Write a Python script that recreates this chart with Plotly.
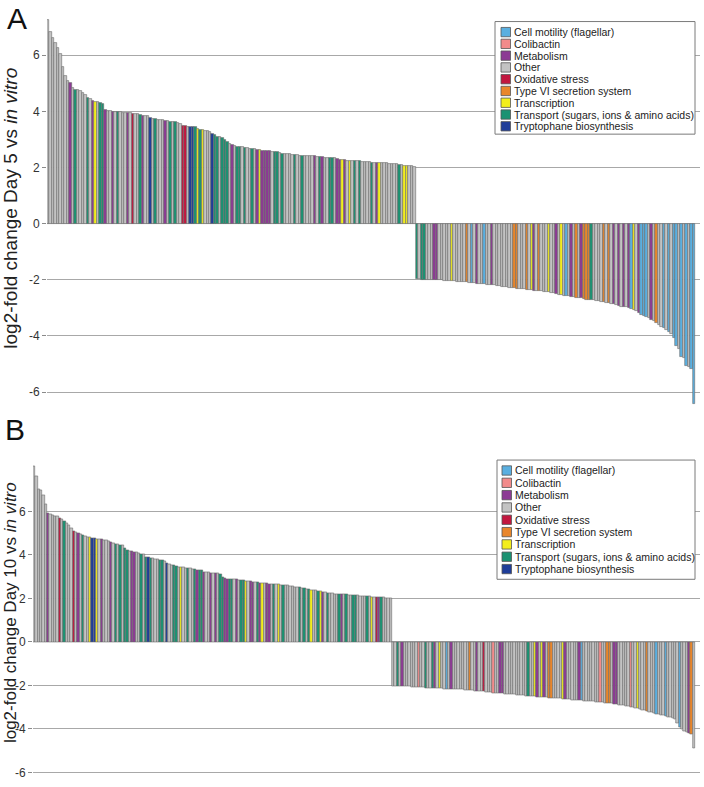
import plotly.graph_objects as go

# ---------------- DATA ----------------
legend_codes = ["C", "P", "M", "O", "R", "X", "Y", "T", "B"]
legend_labels = ["Cell motility (flagellar)", "Colibactin", "Metabolism", "Other",
                 "Oxidative stress", "Type VI secretion system", "Transcription",
                 "Transport (sugars, ions & amino acids)", "Tryptophane biosynthesis"]
cat_colors = {"C": "#5aafe0", "P": "#f28b8b", "M": "#8c3a94", "O": "#c3c3c3", "R": "#c2173f",
              "X": "#e8862b", "Y": "#f3ee1c", "T": "#1b9272", "B": "#1f3d99"}

# Panel A: Day 5 vs in vitro (up-regulated then down-regulated)
a_up = [7.26, 6.82, 6.63, 6.43, 6.25, 6.04, 5.57, 5.25, 5.10, 5.02,
        4.85, 4.76, 4.76, 4.72, 4.65, 4.60, 4.49, 4.45, 4.38, 4.34,
        4.32, 4.30, 4.27, 4.06, 4.00, 4.00, 3.98, 3.98, 3.98, 3.97,
        3.96, 3.95, 3.94, 3.93, 3.92, 3.92, 3.91, 3.86, 3.83, 3.82,
        3.82, 3.76, 3.74, 3.72, 3.71, 3.69, 3.68, 3.67, 3.65, 3.63,
        3.63, 3.62, 3.58, 3.56, 3.49, 3.48, 3.45, 3.44, 3.44, 3.43,
        3.38, 3.34, 3.33, 3.31, 3.29, 3.27, 3.20, 3.15, 3.10, 3.08,
        3.04, 2.99, 2.91, 2.84, 2.80, 2.78, 2.74, 2.73, 2.72, 2.69,
        2.68, 2.67, 2.66, 2.65, 2.64, 2.62, 2.60, 2.59, 2.59, 2.58,
        2.56, 2.56, 2.54, 2.51, 2.50, 2.49, 2.48, 2.47, 2.46, 2.44,
        2.44, 2.43, 2.43, 2.42, 2.42, 2.41, 2.41, 2.40, 2.39, 2.38,
        2.36, 2.35, 2.35, 2.34, 2.33, 2.33, 2.30, 2.28, 2.26, 2.26,
        2.25, 2.24, 2.23, 2.23, 2.22, 2.22, 2.21, 2.21, 2.20, 2.19,
        2.18, 2.18, 2.17, 2.17, 2.16, 2.15, 2.15, 2.14, 2.13, 2.12,
        2.12, 2.09, 2.08, 2.07, 2.07, 2.05, 2.04, 2.02]
a_up_cats = ("OOOOOOOOOM" "OTOOOOTOMY" "OTTMOOMOTO" "OOMOROOTMO" "OBOTOOOMOT"
             "OTOORROBBT" "YTYOOOBTTO" "TTTOMOTTOT" "OOTOMYMMMM" "OTTOTOOOOT"
             "OOTOOOOMOT" "MOOTTOMMYM" "OYOTOTOOOO" "TOMYOOOOOO" "OTOYYOOO")
a_down = [-1.98, -1.98, -1.99, -1.99, -2.00, -2.00, -2.00, -2.01, -2.01, -2.02,
          -2.02, -2.03, -2.03, -2.04, -2.04, -2.05, -2.06, -2.07, -2.08, -2.08,
          -2.09, -2.10, -2.11, -2.12, -2.13, -2.14, -2.15, -2.16, -2.17, -2.18,
          -2.19, -2.20, -2.22, -2.23, -2.24, -2.26, -2.27, -2.28, -2.29, -2.30,
          -2.31, -2.32, -2.33, -2.34, -2.35, -2.36, -2.37, -2.38, -2.39, -2.40,
          -2.41, -2.42, -2.44, -2.45, -2.47, -2.48, -2.50, -2.53, -2.55, -2.56,
          -2.57, -2.59, -2.60, -2.62, -2.63, -2.65, -2.66, -2.69, -2.70, -2.71,
          -2.71, -2.73, -2.75, -2.77, -2.79, -2.80, -2.82, -2.84, -2.86, -2.87,
          -2.90, -2.93, -2.95, -2.96, -2.98, -3.01, -3.04, -3.07, -3.10, -3.19,
          -3.24, -3.28, -3.31, -3.36, -3.42, -3.48, -3.54, -3.62, -3.68, -3.72,
          -3.80, -3.86, -3.93, -4.07, -4.36, -4.45, -4.76, -4.80, -5.07, -5.12,
          -5.19, -6.43]
a_down_cats = ("TOTTOOOMMO" "OOOOYOOOOO" "XOCOMOOCOO" "MOOOOOOOOX" "XOOOXOYMOX"
               "OOOYOOMOYO" "COMOXOMXXX" "TOOOOXOXOM" "OMOMOMCYOM" "CCCOMOXOOC"
               "OCOCCOCOCO" "CC")

# Panel B: Day 10 vs in vitro
b_up = [8.09, 7.60, 7.02, 6.98, 6.76, 6.31, 5.90, 5.87, 5.84, 5.79,
        5.75, 5.69, 5.64, 5.53, 5.46, 5.35, 5.20, 5.08, 5.02, 4.98,
        4.94, 4.90, 4.86, 4.83, 4.80, 4.77, 4.76, 4.73, 4.72, 4.70,
        4.69, 4.66, 4.64, 4.56, 4.54, 4.50, 4.48, 4.45, 4.42, 4.31,
        4.20, 4.16, 4.16, 4.13, 4.10, 4.09, 4.04, 4.01, 3.91, 3.87,
        3.84, 3.82, 3.81, 3.79, 3.76, 3.74, 3.69, 3.62, 3.58, 3.54,
        3.52, 3.47, 3.45, 3.42, 3.41, 3.40, 3.40, 3.38, 3.35, 3.32,
        3.29, 3.27, 3.27, 3.21, 3.20, 3.18, 3.17, 3.17, 3.15, 3.14,
        3.10, 2.98, 2.92, 2.90, 2.89, 2.87, 2.86, 2.86, 2.84, 2.84,
        2.82, 2.79, 2.78, 2.77, 2.76, 2.74, 2.73, 2.71, 2.71, 2.70,
        2.68, 2.67, 2.66, 2.66, 2.64, 2.63, 2.62, 2.60, 2.59, 2.58,
        2.56, 2.55, 2.53, 2.52, 2.50, 2.46, 2.45, 2.42, 2.40, 2.39,
        2.37, 2.36, 2.34, 2.33, 2.30, 2.27, 2.25, 2.24, 2.22, 2.21,
        2.21, 2.20, 2.19, 2.18, 2.17, 2.16, 2.15, 2.14, 2.13, 2.12,
        2.11, 2.10, 2.10, 2.09, 2.09, 2.07, 2.06, 2.06, 2.05, 2.04,
        2.03, 2.02, 2.02, 2.01]
b_up_cats = ("OOOOOOMOOO" "OROTOOOROM" "OTOOYBBYOM" "OOOMOTOTOT" "TOMMOOTOTB"
             "TOOOTTOBOO" "TTOYOOTOOT" "MTTMOOMOMO" "TTMMTTOMOT" "TYOMMOTMYO"
             "MMOTOYOTOO" "OOOOTOTOTY" "OOTYMOTOOO" "OTMOTOOTTO" "OOOTOYORMT"
             "OOOO")
b_down = [-2.02, -2.03, -2.03, -2.04, -2.04, -2.05, -2.05, -2.06, -2.07, -2.07,
          -2.08, -2.09, -2.10, -2.10, -2.11, -2.12, -2.13, -2.13, -2.14, -2.14,
          -2.15, -2.15, -2.16, -2.16, -2.17, -2.17, -2.18, -2.18, -2.19, -2.19,
          -2.20, -2.21, -2.22, -2.23, -2.24, -2.25, -2.26, -2.27, -2.28, -2.29,
          -2.30, -2.31, -2.33, -2.34, -2.35, -2.36, -2.37, -2.38, -2.39, -2.40,
          -2.41, -2.42, -2.43, -2.44, -2.45, -2.46, -2.47, -2.48, -2.49, -2.50,
          -2.51, -2.52, -2.53, -2.54, -2.55, -2.55, -2.56, -2.57, -2.58, -2.59,
          -2.59, -2.60, -2.61, -2.62, -2.63, -2.64, -2.65, -2.66, -2.67, -2.68,
          -2.69, -2.70, -2.71, -2.72, -2.73, -2.74, -2.75, -2.76, -2.77, -2.78,
          -2.79, -2.80, -2.82, -2.83, -2.84, -2.86, -2.87, -2.89, -2.90, -2.92,
          -2.94, -2.96, -2.99, -3.01, -3.04, -3.06, -3.09, -3.12, -3.15, -3.18,
          -3.22, -3.25, -3.28, -3.31, -3.33, -3.36, -3.39, -3.42, -3.45, -3.48,
          -3.51, -3.54, -3.76, -3.91, -4.02, -4.10, -4.15, -4.20, -4.24, -4.87]
b_down_cats = ("OOTOMOOOOO" "OPOOTOOTMO" "YOOCOMOOOO" "OOOXOOMOOR" "OOOPOOMMOO"
               "OOOOOOOOTO" "OYMOYMOXXO" "OOOYMOOOOO" "MCOOOOOOOP" "OOXXOMMOOO"
               "OOPOOYOOOX" "OOOCOOOCOO" "OOOCOOOMXO")

y_ticks = [-6, -4, -2, 0, 2, 4, 6]
y_tick_text = ["-6", "-4", "-2", "0", "2", "4", "6"]

# ---------------- CHECKS ----------------
for name, v, c in [("a_up", a_up, a_up_cats), ("a_down", a_down, a_down_cats),
                   ("b_up", b_up, b_up_cats), ("b_down", b_down, b_down_cats)]:
    if len(v) != len(c):
        raise ValueError(f"{name}: {len(v)} values vs {len(c)} cats")

W, H = 704, 787
FONT = "Liberation Sans, Arial, Helvetica, sans-serif"


def px_x(x):
    return x / W


def px_y(y):
    return 1 - y / H


# panel B: zero at 646 px, 21.9 px per unit
b_y0, b_scale = 646.0, 21.9
b_range = (-6.1, 8.3)

fig = go.Figure()

panels = [
    dict(vals=a_up + a_down, cats=a_up_cats + a_down_cats, xa="x", ya="y",
         xl=47, xr=700, bar_end=695, yr=(-6.6, 7.4), ytop=16, ybot=411.5),
    dict(vals=b_up + b_down, cats=b_up_cats + b_down_cats, xa="x2", ya="y2",
         xl=33, xr=700, bar_end=695, yr=b_range,
         ytop=b_y0 - b_range[1] * b_scale, ybot=b_y0 - b_range[0] * b_scale),
]

for i, p in enumerate(panels):
    n = len(p["vals"])
    fig.add_trace(go.Bar(
        x=list(range(n)), y=p["vals"],
        marker=dict(color=[cat_colors[c] for c in p["cats"]],
                    line=dict(color="#6a6a6a", width=0.6)),
        width=1.0, xaxis=p["xa"], yaxis=p["ya"], showlegend=False,
        hoverinfo="y",
    ))
    span_px = p["bar_end"] - p["xl"]
    per_bar = span_px / n
    extra = (p["xr"] - p["bar_end"]) / per_bar
    sfx = "" if i == 0 else str(i + 1)
    fig.update_layout(**{
        "xaxis" + sfx: dict(domain=[px_x(p["xl"]), px_x(p["xr"])],
                            range=[-0.5, n - 0.5 + extra],
                            showticklabels=False, showgrid=False, zeroline=False,
                            showline=False, ticks="", anchor="y" + sfx),
        "yaxis" + sfx: dict(domain=[px_y(p["ybot"]), px_y(p["ytop"])],
                            range=list(p["yr"]), tickvals=y_ticks, ticktext=y_tick_text,
                            showgrid=True, gridcolor="#a8a8a8", gridwidth=1.4,
                            zeroline=False, showline=False, ticks="outside",
                            ticklen=4, tickcolor="#8a8a8a", tickwidth=1,
                            tickfont=dict(size=12, color="#333333", family=FONT),
                            anchor="x" + sfx),
    })

annotations = []
shapes = []

# Panel letters
for letter, lx, ly in [("A", 17, 19), ("B", 15, 432)]:
    annotations.append(dict(text=letter, x=px_x(lx), y=px_y(ly), xref="paper", yref="paper",
                            xanchor="center", yanchor="middle", showarrow=False,
                            font=dict(size=30, color="#111", family=FONT)))

# Y-axis titles
for txt, cx, cy, fs in [("log2-fold change Day 5 vs <i>in vitro</i>", 11, 210, 19),
                        ("log2-fold change Day 10 vs <i>in vitro</i>", 10, 617, 17)]:
    annotations.append(dict(text=txt, x=px_x(cx), y=px_y(cy), xref="paper", yref="paper",
                            xanchor="center", yanchor="middle", showarrow=False,
                            textangle=-90, font=dict(size=fs, color="#222", family=FONT)))

# Manual legends (box, swatches, labels)
legend_boxes = [
    dict(x0=495, x1=695, y0=21.7, y1=135, row0=32.3, step=11.85, sw_x=501, tx=512),
    dict(x0=497, x1=695, y0=463, y1=583, row0=473.5, step=12.4, sw_x=502, tx=513),
]
for lb in legend_boxes:
    shapes.append(dict(type="rect", xref="paper", yref="paper",
                       x0=px_x(lb["x0"]), x1=px_x(lb["x1"]),
                       y0=px_y(lb["y1"]), y1=px_y(lb["y0"]),
                       fillcolor="white", line=dict(color="#7a7a7a", width=1), layer="above"))
    for k, (code, label) in enumerate(zip(legend_codes, legend_labels)):
        yc = lb["row0"] + k * lb["step"]
        shapes.append(dict(type="rect", xref="paper", yref="paper",
                           x0=px_x(lb["sw_x"]), x1=px_x(lb["sw_x"] + 9.5),
                           y0=px_y(yc + 4.7), y1=px_y(yc - 4.7),
                           fillcolor=cat_colors[code], line=dict(color="#555", width=0.8),
                           layer="above"))
        annotations.append(dict(text=label, x=px_x(lb["tx"]), y=px_y(yc), xref="paper",
                                yref="paper", xanchor="left", yanchor="middle",
                                showarrow=False,
                                font=dict(size=10.5, color="#222", family=FONT)))

fig.update_layout(
    width=W, height=H, margin=dict(l=0, r=0, t=0, b=0),
    paper_bgcolor="white", plot_bgcolor="white",
    bargap=0, showlegend=False,
    annotations=annotations, shapes=shapes,
    font=dict(family=FONT),
)

fig.write_html("out.html", config={"displayModeBar": False},
               post_script="document.body.style.margin='0';document.body.style.overflow='hidden';")
